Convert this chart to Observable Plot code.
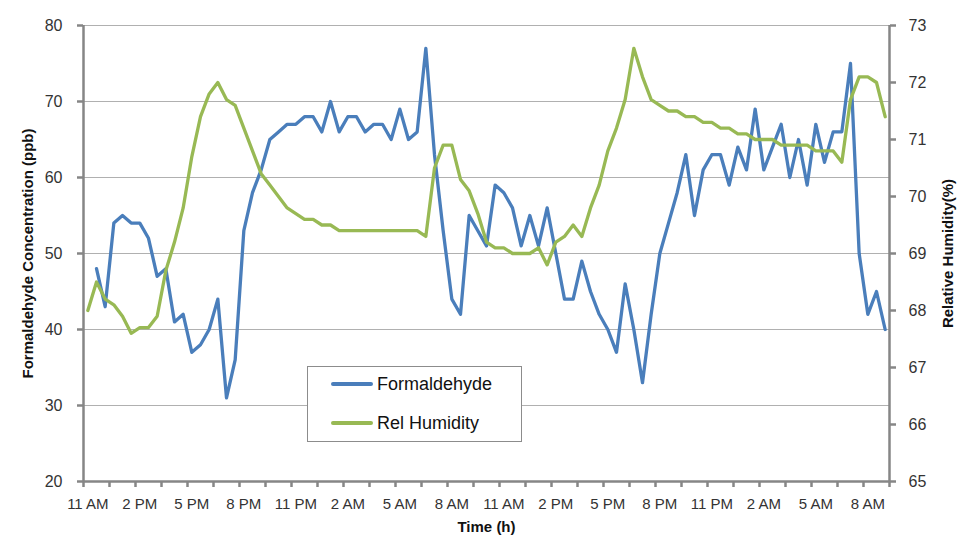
<!DOCTYPE html>
<html>
<head>
<meta charset="utf-8">
<script src="https://cdn.jsdelivr.net/npm/d3@7"></script>
<script src="https://cdn.jsdelivr.net/npm/@observablehq/plot@0.6"></script>
<style>
  html, body { margin: 0; padding: 0; background: #fff; }
  #wrap { position: relative; width: 957px; height: 538px; overflow: hidden; font-family: "Liberation Sans", Arial, sans-serif; }
  #wrap svg { position: absolute; left: 0; top: 0; }
  #legend { position: absolute; left: 307px; top: 366px; width: 213px; height: 74px; border: 1px solid #8c8c8c; background: #fff; }
  .lg-line { position: absolute; left: 23px; width: 42px; height: 3.4px; border-radius: 2px; }
  .lg-text { position: absolute; left: 69px; font-size: 18px; color: #111; line-height: 20px; }
</style>
</head>
<body>
<div id="wrap"></div>
<script>
// ---- data (one value per half hour, starting 11 AM) ----
const timeLabels = ["11 AM","2 PM","5 PM","8 PM","11 PM","2 AM","5 AM","8 AM",
                    "11 AM","2 PM","5 PM","8 PM","11 PM","2 AM","5 AM","8 AM"];

const formaldehyde = [null,
  48, 43, 54, 55, 54, 54, 52, 47, 48, 41,
  42, 37, 38, 40, 44, 31, 36, 53, 58, 61,
  65, 66, 67, 67, 68, 68, 66, 70, 66, 68,
  68, 66, 67, 67, 65, 69, 65, 66, 77, 63,
  53, 44, 42, 55, 53, 51, 59, 58, 56, 51,
  55, 51, 56, 50, 44, 44, 49, 45, 42, 40,
  37, 46, 40, 33, 42, 50, 54, 58, 63, 55,
  61, 63, 63, 59, 64, 61, 69, 61, 64, 67,
  60, 65, 59, 67, 62, 66, 66, 75, 50, 42,
  45, 40];

const relHumidity = [
  68.0, 68.5, 68.2, 68.1, 67.9, 67.6, 67.7, 67.7, 67.9, 68.7,
  69.2, 69.8, 70.7, 71.4, 71.8, 72.0, 71.7, 71.6, 71.2, 70.8,
  70.4, 70.2, 70.0, 69.8, 69.7, 69.6, 69.6, 69.5, 69.5, 69.4,
  69.4, 69.4, 69.4, 69.4, 69.4, 69.4, 69.4, 69.4, 69.4, 69.3,
  70.5, 70.9, 70.9, 70.3, 70.1, 69.7, 69.2, 69.1, 69.1, 69.0,
  69.0, 69.0, 69.1, 68.8, 69.2, 69.3, 69.5, 69.3, 69.8, 70.2,
  70.8, 71.2, 71.7, 72.6, 72.1, 71.7, 71.6, 71.5, 71.5, 71.4,
  71.4, 71.3, 71.3, 71.2, 71.2, 71.1, 71.1, 71.0, 71.0, 71.0,
  70.9, 70.9, 70.9, 70.9, 70.8, 70.8, 70.8, 70.6, 71.7, 72.1,
  72.1, 72.0, 71.4];

const leftTicks = [20, 30, 40, 50, 60, 70, 80];
const rightTicks = [65, 66, 67, 68, 69, 70, 71, 72, 73];
const seriesNames = ["Formaldehyde", "Rel Humidity"];
const seriesColors = ["#4a7ebb", "#98b954"];
const leftTitle = "Formaldehyde Concentration (ppb)";
const rightTitle = "Relative Humidity(%)";
const xTitle = "Time (h)";

// ---- tables ----
const blueData = formaldehyde.map((v, i) => ({i, v}));
const greenData = relHumidity.map((v, i) => ({i, v}));
const n = relHumidity.length;
const boundaryTicks = d3.range(-0.5, n, 3);
const labelTicks = timeLabels.map((_, k) => k * 6);

const axisColor = "#868686";
const textColor = "#333";
const titleSize = 15;
const common = {
  width: 957, height: 538,
  marginTop: 25, marginRight: 68, marginBottom: 57, marginLeft: 83,
  style: {fontFamily: "'Liberation Sans', Arial, sans-serif", background: "transparent", overflow: "visible"}
};

const p1 = Plot.plot({
  ...common,
  x: {domain: [-0.5, n - 0.5]},
  y: {domain: [20, 80]},
  marks: [
    Plot.ruleY(leftTicks.slice(1), {stroke: "#b0b0b0", strokeWidth: 1}),
    Plot.line(blueData, {x: "i", y: "v", stroke: seriesColors[0], strokeWidth: 3.3}),
    Plot.axisY({ticks: leftTicks, tickSize: 6, tickPadding: 15, fontSize: 16, stroke: axisColor, strokeWidth: 2.5, fill: textColor, label: null}),
    Plot.axisX({ticks: boundaryTicks, tickSize: 6, tickFormat: () => "", stroke: axisColor, strokeWidth: 2.5, label: null}),
    Plot.axisX({ticks: labelTicks, tickSize: 0, tickPadding: 17, tickFormat: i => timeLabels[i / 6], fontSize: 15, fill: textColor, label: null}),
    Plot.ruleX([-0.5], {stroke: axisColor, strokeWidth: 2.5}),
    Plot.ruleY([20], {stroke: axisColor, strokeWidth: 2.5}),
    Plot.text([leftTitle], {text: d => d, frameAnchor: "left", dx: -55, rotate: -90, textAnchor: "middle", lineAnchor: "middle", fontWeight: "bold", fontSize: titleSize, fill: "#111"}),
    Plot.text([xTitle], {text: d => d, frameAnchor: "bottom", dy: 46, textAnchor: "middle", lineAnchor: "middle", fontWeight: "bold", fontSize: titleSize, fill: "#111"})
  ]
});

const p2 = Plot.plot({
  ...common,
  x: {domain: [-0.5, n - 0.5], axis: null},
  y: {domain: [65, 73]},
  marks: [
    Plot.line(greenData, {x: "i", y: "v", stroke: seriesColors[1], strokeWidth: 3.3}),
    Plot.axisY({anchor: "right", ticks: rightTicks, tickSize: 6, tickPadding: 13, fontSize: 16, stroke: axisColor, strokeWidth: 2.5, fill: textColor, label: null}),
    Plot.ruleX([n - 0.5], {stroke: axisColor, strokeWidth: 2.5}),
    Plot.text([rightTitle], {text: d => d, frameAnchor: "right", dx: 59, rotate: -90, textAnchor: "middle", lineAnchor: "middle", fontWeight: "bold", fontSize: titleSize, fill: "#111"})
  ]
});

const wrap = document.getElementById("wrap");
wrap.appendChild(p1);
wrap.appendChild(p2);

// legend
const legend = document.createElement("div");
legend.id = "legend";
seriesNames.forEach((name, k) => {
  const top = 17 + k * 39;
  const line = document.createElement("div");
  line.className = "lg-line";
  line.style.top = (top - 1.7) + "px";
  line.style.background = seriesColors[k];
  const txt = document.createElement("div");
  txt.className = "lg-text";
  txt.style.top = (top - 10) + "px";
  txt.textContent = name;
  legend.appendChild(line);
  legend.appendChild(txt);
});
wrap.appendChild(legend);
</script>
</body>
</html>
